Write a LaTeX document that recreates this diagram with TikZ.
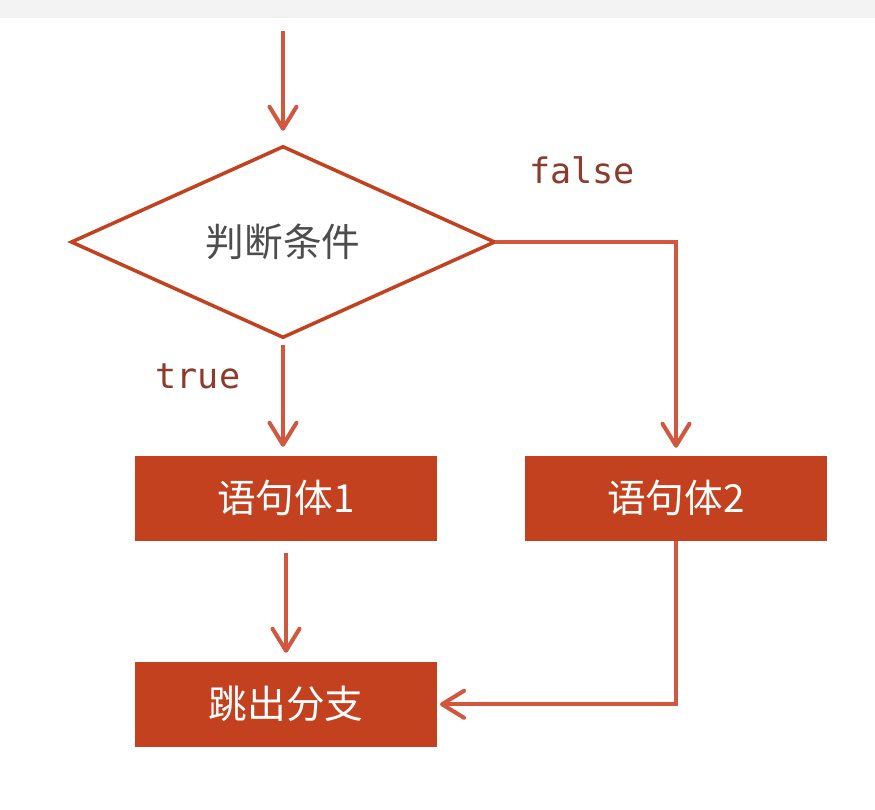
\documentclass[tikz,border=0pt]{standalone}
\usepackage{fontspec}
\setmonofont{DejaVu Sans Mono}
\newfontfamily\cjk{Noto Sans CJK SC}
\usepackage{tikz}
\usetikzlibrary{positioning,shapes.geometric,arrows.meta}

\definecolor{arrowred}{HTML}{D2573F}
\definecolor{boxred}{HTML}{C3411F}
\definecolor{labelred}{HTML}{8C3B2C}
\definecolor{condgray}{HTML}{4D4D4D}
\definecolor{topgray}{HTML}{F3F3F3}

\begin{document}
\begin{tikzpicture}[-{Straight Barb[length=4.4mm,width=5.4mm,round]},
            line width=2.3pt,color=arrowred,
            cond node/.style={diamond,draw=boxred,line width=2pt,fill=white,
              minimum width=8.46cm,minimum height=3.78cm,inner sep=0pt,outer sep=0pt,
              text=condgray,font=\cjk\fontsize{22}{26}\selectfont},
            block node/.style={rectangle,fill=boxred,draw=none,outer sep=0pt,
              minimum width=6.04cm,minimum height=1.7cm,
              text=white,font=\cjk\fontsize{22}{26}\selectfont},
            label text/.style={text=labelred,font=\ttfamily\fontsize{20}{24}\selectfont}]

    \useasboundingbox[fill=white] (0,0) rectangle (17.5,-16.18);
    \fill[topgray] (0,0) rectangle (17.5,-0.36);

    \node[cond node] (cond) at (5.66,-4.84) {判断条件};
    \coordinate[above=2.31cm of cond.north] (start);
    \node[block node] (body1) [below=2.37cm of cond,xshift=0.06cm] {语句体1};
    \node[block node] (body2) [right=1.76cm of body1] {语句体2};
    \node[block node] (exit) [below=2.42cm of body1] {跳出分支};

    \node[label text] (ftext) at (11.64,-3.4) {false};
    \node[label text] (ttext) at (3.96,-7.52) {true};

    \path
    (start) edge [shorten >=0.32cm] (cond)
    (cond.south) edge [shorten <=0.16cm,shorten >=0.18cm] (cond.south |- body1.north)
    (body1) edge [shorten <=0.24cm,shorten >=0.18cm] (exit);

    \draw[shorten >=0.16cm] (cond.east) -| (body2.north);
    \draw[shorten >=0.06cm] (body2.south) |- (exit.east);
\end{tikzpicture}
\end{document}
